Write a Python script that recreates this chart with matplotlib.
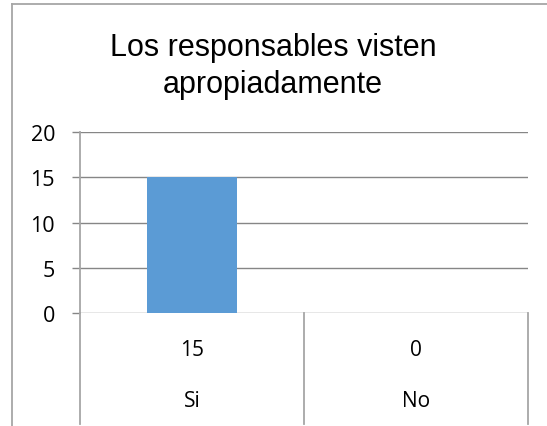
import matplotlib
matplotlib.use("Agg")
import matplotlib.pyplot as plt
from matplotlib.lines import Line2D
from matplotlib.transforms import blended_transform_factory

title_lines = ["Los responsables visten", "apropiadamente"]
categories = ["Si", "No"]
values = [15, 0]
yticks = [0, 5, 10, 15, 20]

W, H = 547, 427
fig = plt.figure(figsize=(W / 100, H / 100), dpi=100)
fig.patch.set_facecolor("white")

def fx(px):
    return px / W

def fy(py):
    return 1 - py / H

# outer chart frame (cut off at right/bottom)
frame_c = "#A6A6A6"
fig.add_artist(Line2D([fx(12), fx(12)], [fy(5), fy(H + 5)], color=frame_c, lw=1.3))
fig.add_artist(Line2D([fx(12), fx(W + 5)], [fy(5), fy(5)], color=frame_c, lw=1.3))

left, right, top, bottom = 80, 528, 133, 314
ax = fig.add_axes([fx(left), fy(bottom), (right - left) / W, (bottom - top) / H])

grid_c = "#868686"
x = list(range(len(categories)))
ax.bar(x, values, width=0.40, color="#5B9BD5", zorder=3)
ax.set_xlim(-0.5, len(categories) - 0.5)
ax.set_ylim(0, 20)
ax.set_yticks(yticks)
ax.set_yticklabels([str(t) for t in yticks], fontsize=15.5, family="Open Sans")
ax.yaxis.grid(True, color=grid_c, lw=1.0, zorder=0)
ax.set_xticks([])
for s in ["top", "right", "bottom"]:
    ax.spines[s].set_visible(False)
ax.spines["left"].set_color("#A6A6A6")
ax.spines["left"].set_linewidth(1.3)
ax.tick_params(axis="y", length=6, width=1.0, color=grid_c, pad=12, labelcolor="black")

# data table below the plot
trans = blended_transform_factory(ax.transData, ax.transAxes)
tab_h = (425 - bottom) / (bottom - top)
for xv in [i - 0.5 for i in range(len(categories) + 1)]:
    ax.add_line(Line2D([xv, xv], [0, -tab_h], transform=trans, color="#A6A6A6",
                       lw=1.3, clip_on=False))
row1 = -(351 - bottom) / (bottom - top)
row2 = -(402 - bottom) / (bottom - top)
for i, (c, v) in enumerate(zip(categories, values)):
    ax.text(i, row1, str(v), transform=trans, ha="center", va="center",
            fontsize=15, family="Open Sans")
    ax.text(i, row2, c, transform=trans, ha="center", va="center",
            fontsize=15, family="Open Sans")

for line, base in zip(title_lines, [56, 93]):
    fig.text(fx(273), fy(base), line, ha="center", va="baseline", fontsize=22,
             family="Liberation Sans")

fig.savefig("out.png", dpi=100)
